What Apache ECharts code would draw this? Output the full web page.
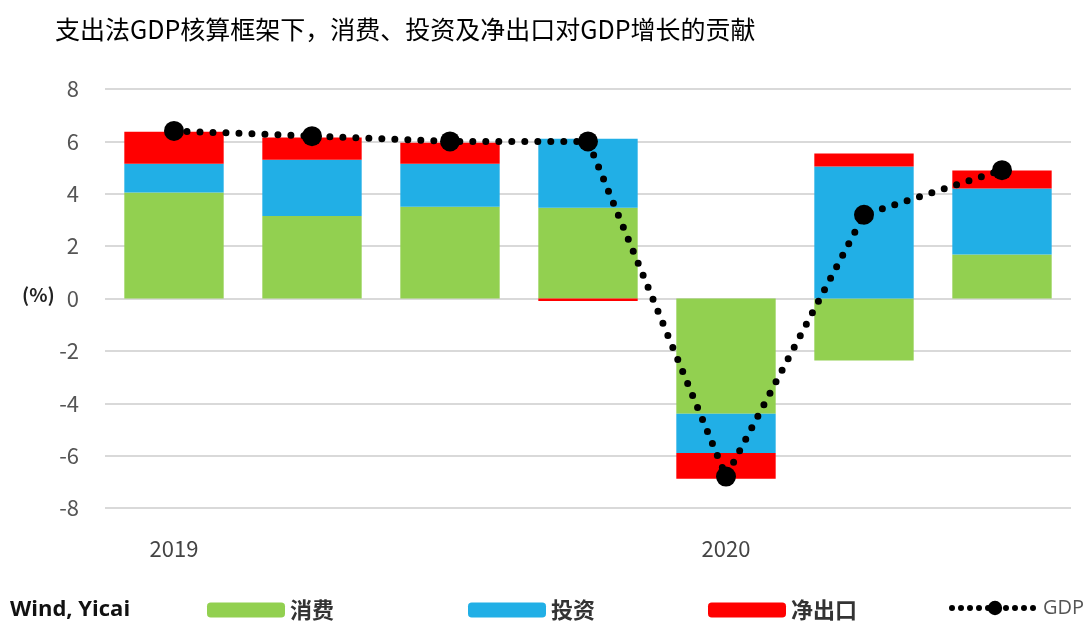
<!DOCTYPE html>
<html>
<head>
<meta charset="utf-8">
<script src="https://cdn.jsdelivr.net/npm/echarts@6/dist/echarts.min.js"></script>
<style>
  html, body { margin: 0; padding: 0; background: #fff; }
  #chart { width: 1089px; height: 623px; }
</style>
</head>
<body>
<div id="chart"></div>
<script>
// quarters, 2019Q1 .. 2020Q3
const categories = ['2019Q1', '2019Q2', '2019Q3', '2019Q4', '2020Q1', '2020Q2', '2020Q3']
const consumption = [4.05, 3.15, 3.5, 3.47, -4.4, -2.37, 1.68]
const investment = [1.1, 2.15, 1.65, 2.63, -1.5, 5.04, 2.52]
const netExports = [1.22, 0.85, 0.8, -0.1, -0.98, 0.5, 0.69]
const gdp = [6.4, 6.2, 6.0, 6.0, -6.8, 3.2, 4.9]
const yTicks = { min: -8, max: 8, interval: 2 }

const font = '"Noto Sans CJK SC", "Open Sans", sans-serif'

const chart = echarts.init(document.getElementById('chart'))

const legendBase = {
  top: 594,
  itemWidth: 78,
  itemHeight: 15,
  itemGap: 16,
  textStyle: { fontFamily: font, fontSize: 22, fontWeight: 'bold', color: '#333' },
}

chart.setOption({
  animation: false,
  textStyle: { fontFamily: font },
  title: {
    text: '支出法GDP核算框架下，消费、投资及净出口对GDP增长的贡献',
    left: 50,
    top: 12,
    textStyle: { fontFamily: font, fontSize: 25, fontWeight: 'normal', color: '#000' },
  },
  graphic: [
    {
      type: 'text',
      left: 22,
      top: 285,
      style: { text: '(%)', font: 'bold 19px ' + font, fill: '#222' },
    },
    {
      type: 'text',
      left: 10,
      top: 599,
      style: { text: 'Wind, Yicai', font: 'bold 22px "Open Sans", sans-serif', fill: '#111' },
    },
  ],
  legend: [
    Object.assign({}, legendBase, { left: 202, data: ['消费'] }),
    Object.assign({}, legendBase, { left: 463, data: ['投资'] }),
    Object.assign({}, legendBase, { left: 703, data: ['净出口'] }),
    Object.assign({}, legendBase, {
      left: 944,
      top: 593,
      itemWidth: 86,
      itemHeight: 18,
      itemGap: 10,
      data: ['GDP'],
      lineStyle: { width: 6, type: [0, 9], cap: 'round', color: '#000' },
      textStyle: { fontFamily: '"Open Sans", sans-serif', fontSize: 20, color: '#555' },
    }),
  ],
  grid: { left: 105, right: 18, top: 89, bottom: 115 },
  xAxis: {
    type: 'category',
    data: categories,
    axisLine: { show: false },
    axisTick: { show: false },
    axisLabel: {
      interval: 0,
      margin: 30,
      fontSize: 22,
      color: '#444',
      formatter: (v) => (v.endsWith('Q1') ? v.slice(0, 4) : ''),
    },
  },
  yAxis: {
    type: 'value',
    min: yTicks.min,
    max: yTicks.max,
    interval: yTicks.interval,
    axisLine: { show: false },
    axisTick: { show: false },
    axisLabel: { fontSize: 22, color: '#555', margin: 26 },
    splitLine: { lineStyle: { color: '#d9d9d9', width: 2 } },
  },
  series: [
    {
      name: '消费',
      type: 'bar',
      stack: 'contrib',
      barWidth: '72%',
      itemStyle: { color: '#92d050' },
      data: consumption,
    },
    {
      name: '投资',
      type: 'bar',
      stack: 'contrib',
      itemStyle: { color: '#21afe6' },
      data: investment,
    },
    {
      name: '净出口',
      type: 'bar',
      stack: 'contrib',
      itemStyle: { color: '#ff0000' },
      data: netExports,
    },
    {
      name: 'GDP',
      type: 'line',
      symbol: 'circle',
      symbolSize: 20,
      z: 5,
      itemStyle: { color: '#000' },
      lineStyle: { color: '#000', width: 7, type: [0, 13], cap: 'round' },
      data: gdp,
    },
  ],
})
</script>
</body>
</html>
